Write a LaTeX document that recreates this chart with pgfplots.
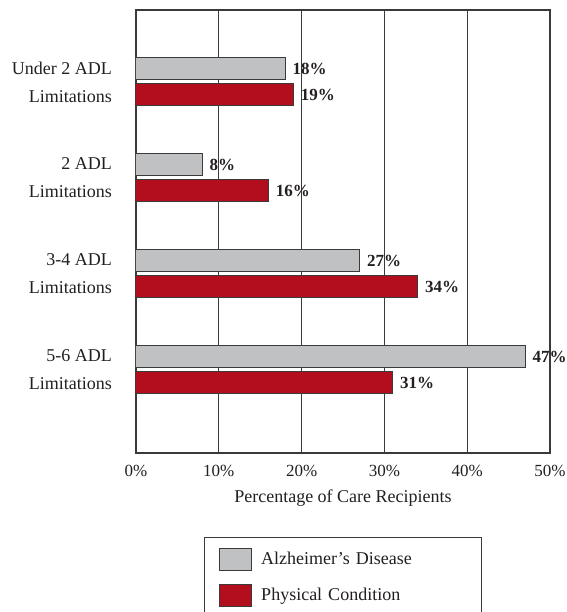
\documentclass[border=0pt]{standalone}
\usepackage{pgfplots}
\pgfplotsset{compat=1.18}
\usepackage{fontspec}
\setmainfont{Liberation Serif}
\definecolor{adgray}{HTML}{C0C1C3}
\definecolor{pcred}{HTML}{B20E1E}
\definecolor{edge}{HTML}{3A3A3A}
\definecolor{txt}{HTML}{231F20}
\begin{document}
\begin{tikzpicture}
\begin{axis}[
  at={(0,0)}, anchor=south west,
  scale only axis, width=414pt, height=443pt,
  xmin=0, xmax=50, ymin=0.135, ymax=4.75,
  xbar, bar width=22pt,
  /pgf/number format/assume math mode=true,
  font=\fontsize{18}{22}\selectfont,
  xtick={0,10,20,30,40,50},
  xticklabels={0\%,10\%,20\%,30\%,40\%,50\%},
  xticklabel style={font=\fontsize{17}{20}\selectfont, yshift=-9pt, text=txt},
  ytick={1,2,3,4},
  yticklabels={5-6 ADL\\Limitations, 3-4 ADL\\Limitations, 2 ADL\\Limitations, Under 2 ADL\\Limitations},
  yticklabel style={align=right, font=\fontsize{18}{28}\selectfont, inner sep=0pt, xshift=-24pt, text=txt},
  major tick length=0pt,
  xmajorgrids, grid style={edge, line width=1.3pt},
  axis line style={edge, line width=1.5pt},
  xlabel={Percentage of Care Recipients},
  xlabel style={font=\fontsize{18}{22}\selectfont, yshift=-6pt, text=txt},
  nodes near coords={\pgfmathprintnumber{\pgfplotspointmeta}\%},
  nodes near coords style={font=\bfseries\fontsize{17}{20}\selectfont, anchor=west, inner sep=0pt, xshift=7pt, text=txt},
  legend style={at={(0.5,-0.19)}, anchor=north, draw=edge, line width=1pt,
    font=\fontsize{18}{22}\selectfont, cells={anchor=west}, row sep=13pt,
    inner xsep=14pt, inner ysep=10pt, text width=204pt, text=txt},
  legend image code/.code={\draw[#1, line width=1pt] (0pt,-11pt) rectangle (32pt,11pt);
    \path[draw=none, fill=none] (0pt,0pt) -- (40pt,0pt);},
]
\addplot[fill=adgray, draw=edge, line width=1pt, bar shift=13pt] coordinates {(18,4) (8,3) (27,2) (47,1)};
\addlegendentry{Alzheimer’s Disease}
\addplot[fill=pcred, draw=edge, line width=1pt, bar shift=-13pt] coordinates {(19,4) (16,3) (34,2) (31,1)};
\addlegendentry{Physical Condition}
\end{axis}
\pgfresetboundingbox
\path (-136pt,-159pt) rectangle (430pt,453pt);
\end{tikzpicture}
\end{document}
